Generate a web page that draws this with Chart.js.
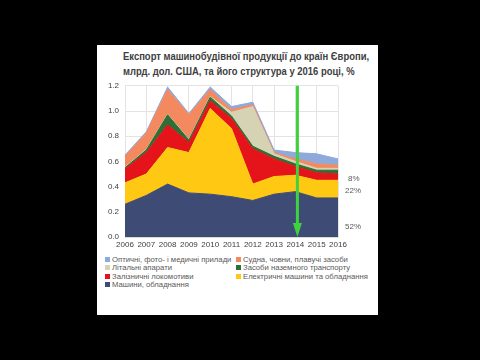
<!DOCTYPE html>
<html>
<head>
<meta charset="utf-8">
<script src="https://cdn.jsdelivr.net/npm/chart.js@4/dist/chart.umd.min.js"></script>
<style>
  html, body { margin: 0; padding: 0; background: #000; width: 480px; height: 360px; overflow: hidden; }
  #panel { position: absolute; left: 97px; top: 45px; width: 281px; height: 270px; background: #fff; }
  #title { position: absolute; left: 26px; top: 4px; font: bold 10.5px "Liberation Sans", sans-serif; line-height: 15px; color: #404040; white-space: nowrap; transform: scaleX(0.9); transform-origin: 0 0; }
  #wrap { position: absolute; left: 0; top: 30px; width: 281px; height: 178px; }
  #legend { position: absolute; left: 8px; top: 211px; width: 270px; display: grid; grid-template-columns: 131px 139px; font: 7.7px "Liberation Sans", sans-serif; color: #595959; }
  #legend div { height: 8.4px; line-height: 8.4px; white-space: nowrap; }
  #legend span { display: inline-block; width: 5px; height: 5px; margin-right: 2px; vertical-align: 0; }
</style>
</head>
<body>
<div id="panel">
  <div id="title">Експорт машинобудівної продукції до країн Європи,<br>млрд. дол. США, та його структура у 2016 році, %</div>
  <div id="wrap"><canvas id="myChart"></canvas></div>
  <div id="legend"></div>
</div>
<script>
const years = ['2006', '2007', '2008', '2009', '2010', '2011', '2012', '2013', '2014', '2015', '2016'];

const machines   = [0.26, 0.33, 0.42, 0.35, 0.34, 0.32, 0.29, 0.34, 0.36, 0.31, 0.31];
const electrical = [0.17, 0.17, 0.29, 0.32, 0.68, 0.54, 0.13, 0.14, 0.13, 0.14, 0.14];
const locos      = [0.11, 0.17, 0.18, 0.08, 0.06, 0.08, 0.28, 0.14, 0.07, 0.06, 0.05];
const ground     = [0.01, 0.02, 0.08, 0.02, 0.03, 0.02, 0.02, 0.02, 0.02, 0.02, 0.03];
const aircraft   = [0.005, 0.005, 0.005, 0.005, 0.005, 0.03, 0.315, 0.02, 0.02, 0.015, 0.015];
const ships      = [0.085, 0.13, 0.195, 0.195, 0.055, 0.02, 0.015, 0.01, 0.02, 0.035, 0.025];
const optical    = [0.01, 0.01, 0.02, 0.01, 0.02, 0.025, 0.02, 0.02, 0.05, 0.08, 0.05];

const shares = ['52%', '22%', '8%'];

const ctx = document.getElementById('myChart');

function area(label, data, color, fill) {
  return {
    label: label,
    data: data,
    backgroundColor: color,
    borderColor: color,
    borderWidth: 1,
    pointRadius: 0,
    tension: 0,
    fill: fill
  };
}

// green arrow at 2014 and the 2016 structure labels
const extras = {
  id: 'extras',
  afterDatasetsDraw(chart) {
    const c = chart.ctx;
    const x = chart.scales.x.getPixelForValue(8) + 2;
    const y0 = chart.chartArea.top;
    const y1 = chart.chartArea.bottom;
    c.save();
    c.strokeStyle = '#3fd23f';
    c.fillStyle = '#3fd23f';
    c.lineWidth = 3;
    c.beginPath();
    c.moveTo(x, y0);
    c.lineTo(x, y1 - 12);
    c.stroke();
    c.beginPath();
    c.moveTo(x - 4.5, y1 - 14);
    c.lineTo(x + 4.5, y1 - 14);
    c.lineTo(x, y1);
    c.closePath();
    c.fill();

    const y = chart.scales.y;
    const at = [0.08, 0.37, 0.46];
    c.fillStyle = '#595959';
    c.font = '8px "Liberation Sans", sans-serif';
    c.textBaseline = 'middle';
    shares.forEach((s, i) => {
      c.fillText(s, chart.chartArea.right + (s.length > 2 ? 7 : 10), y.getPixelForValue(at[i]));
    });
    c.restore();
  }
};

const chart = new Chart(ctx, {
  type: 'line',
  data: {
    labels: years,
    datasets: [
      area('Машини, обладнання', machines, '#3e4b75', 'origin'),
      area('Електричні машини та обладнання', electrical, '#ffc812', '-1'),
      area('Залізничні локомотиви', locos, '#e5141b', '-1'),
      area('Засоби наземного транспорту', ground, '#2f6e34', '-1'),
      area('Літальні апарати', aircraft, '#d6d2b4', '-1'),
      area('Судна, човни, плавучі засоби', ships, '#f4895f', '-1'),
      area('Оптичні, фото- і медичні прилади', optical, '#8eaadb', '-1')
    ]
  },
  options: {
    responsive: true,
    maintainAspectRatio: false,
    animation: false,
    layout: { padding: { top: 9, right: 40, left: 0, bottom: 0 } },
    scales: {
      x: {
        offset: false,
        grid: { color: '#e3e3e3', drawTicks: false },
        border: { color: '#d9d9d9' },
        ticks: { color: '#404040', font: { size: 8, family: 'Liberation Sans' }, padding: 3, maxRotation: 0, autoSkip: false },
        afterFit(s) { s.height = 16; }
      },
      y: {
        stacked: true,
        min: 0,
        max: 1.2,
        grid: { color: '#e3e3e3', drawTicks: false },
        border: { display: false },
        ticks: { stepSize: 0.2, color: '#404040', font: { size: 8, family: 'Liberation Sans' }, padding: 6, callback: v => v.toFixed(1) },
        afterFit(s) { s.width = 28; }
      }
    },
    plugins: {
      legend: { display: false },
      tooltip: { enabled: false }
    }
  },
  plugins: [extras]
});

// two-column legend, same order as the original slide
const legendBox = document.getElementById('legend');
chart.data.datasets.slice().reverse().forEach(ds => {
  const item = document.createElement('div');
  item.innerHTML = '<span style="background:' + ds.backgroundColor + '"></span>' + ds.label;
  legendBox.appendChild(item);
});
</script>
</body>
</html>
